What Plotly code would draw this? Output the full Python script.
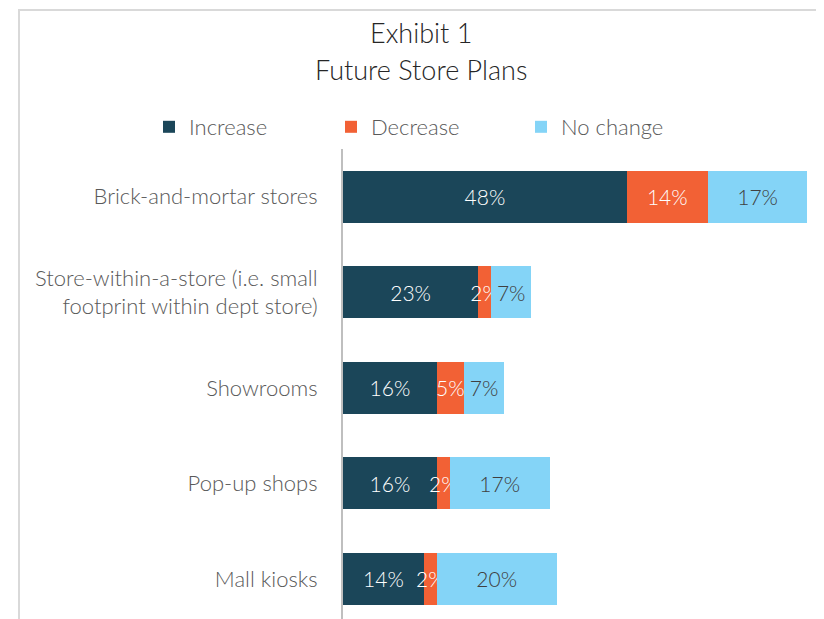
import plotly.graph_objects as go

# values (% of respondents, labels show them rounded)
categories = [
    "Brick-and-mortar stores",
    "Store-within-a-store (i.e. small<br>footprint within dept store)",
    "Showrooms",
    "Pop-up shops",
    "Mall kiosks",
]
increase = [48.1, 22.9, 15.9, 15.9, 13.7]
decrease = [13.7, 2.2, 4.6, 2.2, 2.2]
no_change = [16.9, 6.8, 6.8, 16.9, 20.3]

series = [
    ("Increase", increase, "#1b4659", "white", "legend", 148),
    ("Decrease", decrease, "#f26135", "white", "legend2", 330),
    ("No change", no_change, "#84d4f7", "#404040", "legend3", 520),
]

FONT = "Lato"
OFF = 7  # page body margin shifts the figure
W, H = 824 - OFF, 619 - OFF
L, R, T = 342 - OFF, 4, 148 - OFF
PW, PH = W - L - R, H - T


def px(x):
    return (x - OFF - L) / PW


def py(y):
    return 1 + (T - (y - OFF)) / PH


fig = go.Figure()
legends = {}
for name, vals, color, txtcolor, leg, lx in series:
    fig.add_trace(go.Bar(
        name=name,
        y=categories,
        x=vals,
        orientation="h",
        legend=leg,
        showlegend=True,
        marker=dict(color=color, line=dict(width=0)),
        texttemplate="%{x:.0f}%",
        textposition="inside",
        insidetextanchor="middle",
        textangle=0,
        textfont=dict(family=FONT, size=21, color=txtcolor, weight=300),
        hoverinfo="skip",
    ))
    legends[leg] = dict(
        orientation="h",
        xref="container", yref="container",
        x=(lx - OFF) / W, y=1 - (126 - OFF) / H,
        xanchor="left", yanchor="middle",
        font=dict(family=FONT, size=22, color="#595959", weight=300),
        bgcolor="rgba(0,0,0,0)",
    )

fig.update_layout(
    width=W,
    height=H,
    showlegend=True,
    barmode="stack",
    bargap=0.455,
    plot_bgcolor="white",
    paper_bgcolor="white",
    margin=dict(l=L, r=R, t=T, b=0, autoexpand=False),
    font=dict(family=FONT, size=22, color="#595959", weight=300),
    uniformtext=dict(minsize=21, mode="show"),
    xaxis=dict(
        range=[0, 81.0],
        visible=False,
        fixedrange=True,
    ),
    yaxis=dict(
        categoryorder="array",
        categoryarray=categories,
        range=[4.43, -0.5],
        showline=True,
        linecolor="#bfbfbf",
        linewidth=2,
        showgrid=False,
        ticks="",
        automargin=False,
        ticklabelstandoff=19,
        tickfont=dict(family=FONT, size=22, color="#595959", weight=300),
    ),
    **legends,
)

# two-line title
for txt, ty in [("Exhibit 1", 31), ("Future Store Plans", 68)]:
    fig.add_annotation(
        text=txt, xref="paper", yref="paper",
        x=px(420), y=py(ty), xanchor="center", yanchor="middle",
        showarrow=False,
        font=dict(family=FONT, size=27, color="#262626", weight=300),
    )

# light frame around the chart area
fig.add_shape(
    type="rect", xref="paper", yref="paper",
    x0=px(18), x1=1.5, y0=-0.5, y1=py(9),
    line=dict(color="#d9d9d9", width=2),
    layer="below",
)

fig.write_html("out.html")
